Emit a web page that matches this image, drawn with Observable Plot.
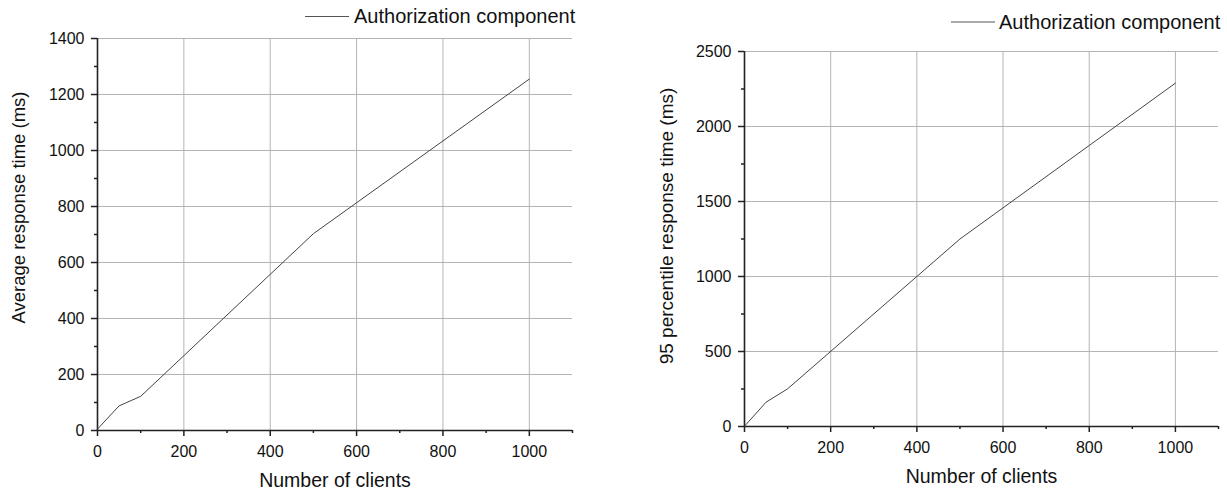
<!DOCTYPE html>
<html>
<head>
<meta charset="utf-8">
<script src="https://cdn.jsdelivr.net/npm/d3@7"></script>
<script src="https://cdn.jsdelivr.net/npm/@observablehq/plot@0.6"></script>
<style>
  html, body { margin: 0; padding: 0; background: #fff; }
  #wrap { position: relative; width: 1227px; height: 493px; overflow: hidden; font-family: "Liberation Sans", Arial, sans-serif; }
  .panel { position: absolute; top: 0; }
  #legend { position: absolute; left: 0; top: 0; pointer-events: none; }
</style>
</head>
<body>
<div id="wrap"></div>
<script>
// ---- data ----
const clients = [0, 50, 100, 500, 1000];
const avgResponseMs = [5, 88, 122, 703, 1255];
const p95ResponseMs = [2, 162, 251, 1250, 2289];

const seriesName = "Authorization component";
const xLabel = "Number of clients";
const avgLabel = "Average response time (ms)";
const p95Label = "95 percentile response time (ms)";

const xTicks = [0, 200, 400, 600, 800, 1000];
const xMinorTicks = [100, 300, 500, 700, 900, 1100];
const avgTicks = [0, 200, 400, 600, 800, 1000, 1200, 1400];
const avgMinorTicks = [100, 300, 500, 700, 900, 1100, 1300];
const p95Ticks = [0, 500, 1000, 1500, 2000, 2500];
const p95MinorTicks = [250, 750, 1250, 1750, 2250];

// ---- build ----
const font = "Liberation Sans, Arial, sans-serif";
const axisColor = "#222";
const gridColor = "#b4b4b4";
const lineColor = "#444";
const plain = d => String(d);

function panel(cfg) {
  const data = clients.map((c, i) => ({clients: c, ms: cfg.values[i]}));
  return Plot.plot({
    width: cfg.width,
    height: 493,
    marginLeft: cfg.marginLeft,
    marginRight: cfg.marginRight,
    marginTop: cfg.marginTop,
    marginBottom: cfg.marginBottom,
    style: {fontFamily: font, fontSize: "16px", color: "#111", background: "transparent", overflow: "visible"},
    x: {domain: [0, 1100]},
    y: {domain: cfg.yDomain},
    marks: [
      Plot.gridX(xTicks.filter(d => d > 0), {stroke: gridColor, strokeOpacity: 1}),
      Plot.gridY(cfg.yTicks.filter(d => d > 0), {stroke: gridColor, strokeOpacity: 1}),
      Plot.axisX({ticks: xTicks, tickFormat: plain, tickSize: 6, tickPadding: 9, stroke: axisColor, strokeWidth: 1.5, fill: "#111", fontSize: 16, label: null}),
      Plot.axisX({ticks: xMinorTicks, tickSize: 3, tickFormat: () => "", stroke: axisColor, strokeWidth: 1.5, label: null}),
      Plot.axisY({ticks: cfg.yTicks, tickFormat: plain, tickSize: 6, tickPadding: 7, stroke: axisColor, strokeWidth: 1.5, fill: "#111", fontSize: 16, label: null}),
      Plot.axisY({ticks: cfg.yMinor, tickSize: 3, tickFormat: () => "", stroke: axisColor, strokeWidth: 1.5, label: null}),
      Plot.ruleX([0], {stroke: axisColor, strokeWidth: 1.6}),
      Plot.ruleY([0], {stroke: axisColor, strokeWidth: 1.6}),
      Plot.line(data, {x: "clients", y: "ms", stroke: lineColor, strokeWidth: 1}),
      Plot.text([xLabel], {text: d => d, frameAnchor: "bottom", dy: cfg.xTitleDy, lineAnchor: "bottom", fontSize: 19.5, fill: "#111"}),
      Plot.text([cfg.yLabel], {text: d => d, frameAnchor: "left", textAnchor: "middle", rotate: -90, dx: cfg.yTitleDx, dy: cfg.yTitleDy, lineAnchor: "bottom", fontSize: cfg.yTitleSize, fill: "#111"})
    ]
  });
}

const wrap = document.getElementById("wrap");

const left = panel({
  width: 613, marginLeft: 97, marginRight: 41, marginTop: 38, marginBottom: 63,
  yDomain: [0, 1400], yTicks: avgTicks, yMinor: avgMinorTicks, values: avgResponseMs,
  yLabel: avgLabel, xTitleDy: 56, yTitleDx: -73, yTitleDy: -27, yTitleSize: 18.5
});
left.classList.add("panel");
left.style.left = "0px";
wrap.appendChild(left);

const right = panel({
  width: 614, marginLeft: 131, marginRight: 9, marginTop: 51, marginBottom: 67,
  yDomain: [0, 2500], yTicks: p95Ticks, yMinor: p95MinorTicks, values: p95ResponseMs,
  yLabel: p95Label, xTitleDy: 56, yTitleDx: -72, yTitleDy: -13, yTitleSize: 19
});
right.classList.add("panel");
right.style.left = "613px";
wrap.appendChild(right);

// ---- legends ----
const leg = d3.select(wrap).append("svg")
  .attr("id", "legend").attr("width", 1227).attr("height", 493);
const legends = [
  {x1: 305, x2: 349, ly: 16.5, tx: 354, ty: 23},
  {x1: 951, x2: 995, ly: 22, tx: 999, ty: 28.5}
];
legends.forEach(l => {
  leg.append("line").attr("x1", l.x1).attr("x2", l.x2).attr("y1", l.ly).attr("y2", l.ly)
    .attr("stroke", "#555").attr("stroke-width", 1);
  leg.append("text").attr("x", l.tx).attr("y", l.ty)
    .attr("font-family", font).attr("font-size", 20).attr("fill", "#111")
    .text(seriesName);
});
</script>
</body>
</html>
